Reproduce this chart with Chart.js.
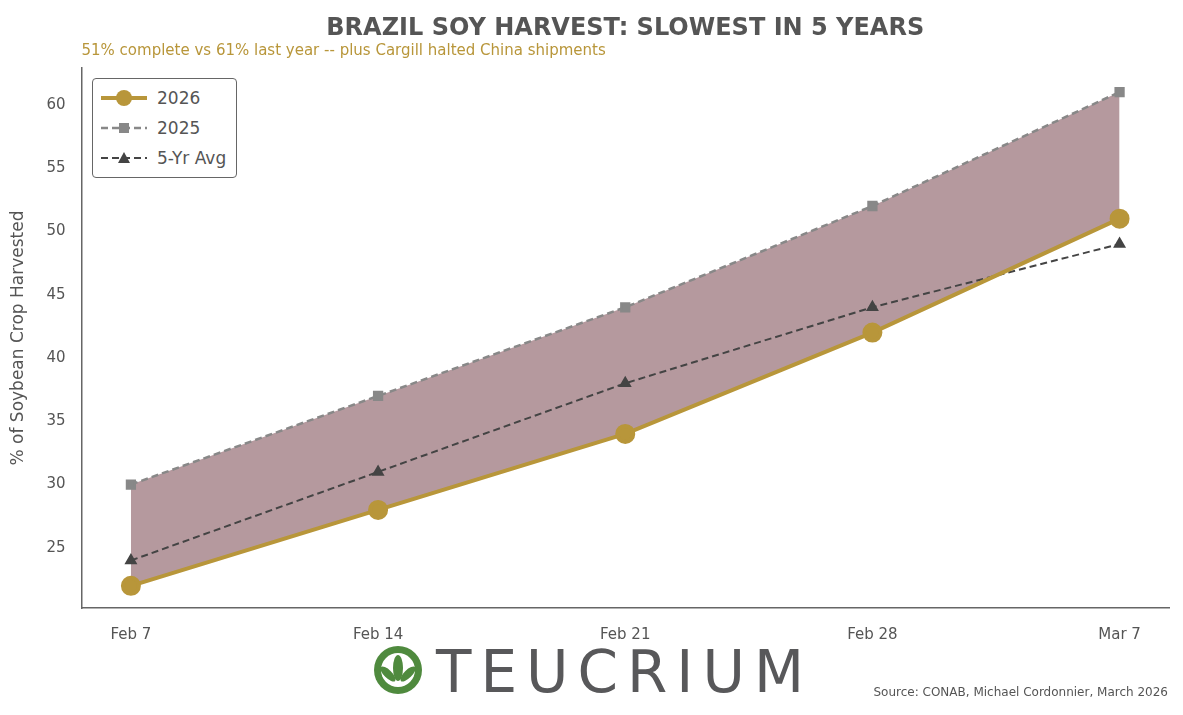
<!DOCTYPE html>
<html><head><meta charset="utf-8">
<script src="https://cdn.jsdelivr.net/npm/chart.js@4/dist/chart.umd.min.js"></script>
<style>
body{margin:0;background:#fff;font-family:"DejaVu Sans",sans-serif}
#wrap{position:relative;width:1183px;height:715px}
#legend{position:absolute;left:92px;top:78px;border:1.5px solid #666;border-radius:4px;background:#fff;padding:4px 10px 4px 8px;font-size:17px;color:#555;line-height:30px}
#legend div{display:flex;align-items:center}
#legend svg{margin-right:10px}
</style></head><body>
<div id="wrap"><canvas id="c"></canvas>
<div id="legend">
<div><svg width="46" height="20"><line x1="0" y1="10" x2="46" y2="10" stroke="#b8963a" stroke-width="4"/><circle cx="23" cy="10" r="8" fill="#b8963a"/></svg>2026</div>
<div><svg width="46" height="20"><line x1="0" y1="10" x2="46" y2="10" stroke="#888" stroke-width="2.5" stroke-dasharray="7,4"/><rect x="18" y="5" width="10" height="10" fill="#888"/></svg>2025</div>
<div><svg width="46" height="20"><line x1="0" y1="10" x2="46" y2="10" stroke="#444" stroke-width="2" stroke-dasharray="7,4"/><polygon points="23,4 29,15 17,15" fill="#444"/></svg>5-Yr Avg</div>
</div></div>
<script>
const weeks = ['Feb 7', 'Feb 14', 'Feb 21', 'Feb 28', 'Mar 7'];
const harvest2026 = [22, 28, 34, 42, 51];
const harvest2025 = [30, 37, 44, 52, 61];
const fiveYrAvg = [24, 31, 38, 44, 49];

const pts = arr => arr.map((v, i) => ({x: i, y: v}));

const extras = {
  id: 'extras',
  afterDraw(chart) {
    const c = chart.ctx;
    const a = chart.chartArea;
    c.save();
    c.fillStyle = '#555';
    c.font = 'bold 24px "DejaVu Sans"';
    c.textAlign = 'center';
    c.fillText('BRAZIL SOY HARVEST: SLOWEST IN 5 YEARS', (a.left + a.right) / 2, 35);
    c.fillStyle = '#b8963a';
    c.font = '15px "DejaVu Sans"';
    c.textAlign = 'left';
    c.fillText('51% complete vs 61% last year -- plus Cargill halted China shipments', a.left, 55);
    c.fillStyle = '#555';
    c.font = '12px "DejaVu Sans"';
    c.textAlign = 'right';
    c.fillText('Source: CONAB, Michael Cordonnier, March 2026', 1168, 696);
    // logo
    c.fillStyle = '#4f8a3e';
    c.beginPath(); c.arc(398, 670, 24, 0, Math.PI * 2); c.fill();
    c.fillStyle = '#fff';
    c.beginPath(); c.arc(398, 670, 17, 0, Math.PI * 2); c.fill();
    c.fillStyle = '#4f8a3e';
    c.beginPath(); c.ellipse(398, 668, 5, 13, 0, 0, Math.PI * 2); c.fill();
    c.beginPath(); c.ellipse(388, 674, 4, 10, -0.8, 0, Math.PI * 2); c.fill();
    c.beginPath(); c.ellipse(408, 674, 4, 10, 0.8, 0, Math.PI * 2); c.fill();
    c.fillStyle = '#58585a';
    c.font = '58px "DejaVu Sans"';
    c.letterSpacing = '9px';
    c.textAlign = 'left';
    c.fillText('TEUCRIUM', 436, 692);
    c.restore();
  }
};

new Chart(document.getElementById('c'), {
  type: 'line',
  data: {
    datasets: [
      {label: '2026', data: pts(harvest2026), borderColor: '#b8963a', backgroundColor: '#b8963a',
       borderWidth: 4, pointRadius: 8, pointStyle: 'circle', fill: false, order: 1},
      {label: '2025', data: pts(harvest2025), borderColor: '#888', backgroundColor: '#888',
       borderWidth: 2.5, borderDash: [7, 4], pointRadius: 5.5, pointStyle: 'rect',
       fill: {target: 0, above: 'rgba(120,70,78,0.55)', below: 'rgba(120,70,78,0.55)'}, order: 3},
      {label: '5-Yr Avg', data: pts(fiveYrAvg), borderColor: '#444', backgroundColor: '#444',
       borderWidth: 2, borderDash: [7, 4], pointRadius: 5.5, pointStyle: 'triangle', fill: false, order: 2}
    ]
  },
  options: {
    responsive: true, maintainAspectRatio: false, animation: false,
    layout: {padding: {left: 8, right: 14, top: 68, bottom: 59}},
    plugins: {
      legend: {display: false},
      tooltip: {enabled: false},
      title: {display: false}
    },
    scales: {
      x: {type: 'linear', min: -0.2, max: 4.2,
        afterBuildTicks: ax => { ax.ticks = weeks.map((w, i) => ({value: i})); },
        ticks: {callback: v => weeks[v], color: '#555', font: {size: 15, family: 'DejaVu Sans'}, padding: 12},
        grid: {display: false, drawTicks: true, tickLength: 6}, border: {color: '#666', width: 1.5}},
      y: {min: 20.25, max: 62.9,
        afterBuildTicks: ax => { ax.ticks = [25, 30, 35, 40, 45, 50, 55, 60].map(v => ({value: v})); },
        ticks: {color: '#555', font: {size: 15, family: 'DejaVu Sans'}, padding: 8},
        grid: {display: false}, border: {color: '#666', width: 1.5},
        title: {display: true, text: '% of Soybean Crop Harvested', color: '#555', font: {size: 17, family: 'DejaVu Sans'}, padding: {top: 0, bottom: 10}}}
    }
  },
  plugins: [extras]
});
</script></body></html>
